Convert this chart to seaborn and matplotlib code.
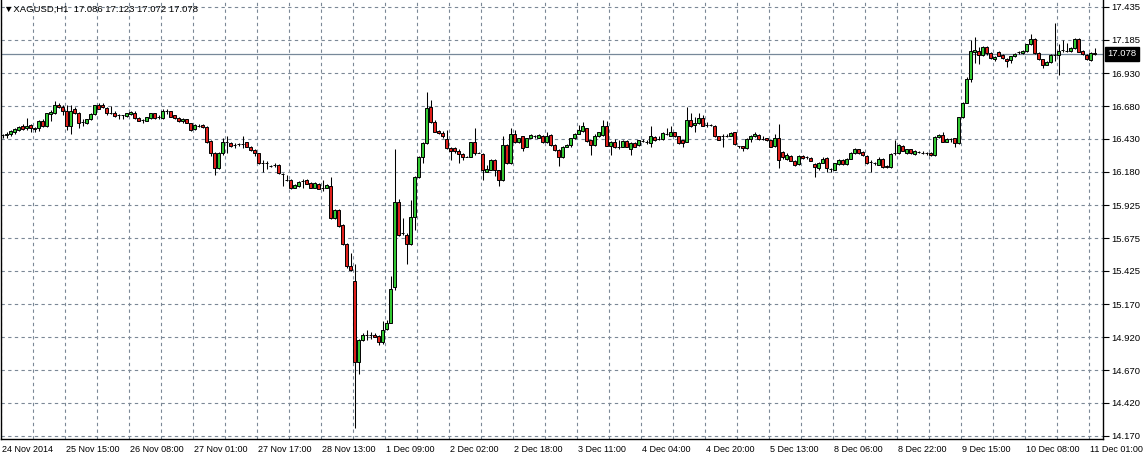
import matplotlib
matplotlib.use("Agg")
import matplotlib.pyplot as plt
import matplotlib.transforms as mtransforms
import numpy as np
import pandas as pd
import seaborn as sns

# XAGUSD H1 candles (oldest first)
opens = [
    16.46, 16.46, 16.467, 16.48, 16.50, 16.527, 16.51, 16.536, 16.51, 16.51,
    16.57, 16.525, 16.618, 16.63, 16.69, 16.675, 16.64, 16.53, 16.656, 16.625,
    16.56, 16.55, 16.58, 16.62, 16.685, 16.685, 16.665, 16.625, 16.625, 16.61,
    16.61, 16.605, 16.62, 16.625, 16.59, 16.574, 16.57, 16.59, 16.625, 16.60,
    16.59, 16.64, 16.64, 16.61, 16.59, 16.565, 16.58, 16.55, 16.505, 16.53,
    16.535, 16.52, 16.415, 16.325, 16.21, 16.32, 16.41, 16.40, 16.385, 16.39,
    16.39, 16.405, 16.37, 16.345, 16.32, 16.245, 16.245, 16.226, 16.235, 16.235,
    16.16, 16.117, 16.12, 16.06, 16.07, 16.11, 16.12, 16.095, 16.06, 16.09,
    16.06, 16.06, 16.07, 15.825, 15.89, 15.775, 15.63, 15.46, 15.35, 14.735,
    14.90, 14.937, 14.937, 14.94, 14.93, 14.88, 14.98, 15.03, 15.30, 15.95,
    15.71, 15.70, 15.63, 15.835, 16.14, 16.29, 16.40, 16.67, 16.56, 16.49,
    16.475, 16.43, 16.36, 16.36, 16.34, 16.315, 16.295, 16.295, 16.405, 16.325,
    16.315, 16.18, 16.195, 16.27, 16.19, 16.117, 16.385, 16.245, 16.47, 16.405,
    16.45, 16.37, 16.44, 16.452, 16.44, 16.45, 16.405, 16.46, 16.385, 16.345,
    16.29, 16.37, 16.385, 16.435, 16.47, 16.49, 16.51, 16.42, 16.385, 16.45,
    16.46, 16.53, 16.38, 16.41, 16.37, 16.37, 16.415, 16.35, 16.40, 16.385,
    16.415, 16.41, 16.40, 16.445, 16.43, 16.43, 16.47, 16.455, 16.48, 16.45,
    16.42, 16.41, 16.575, 16.535, 16.55, 16.59, 16.536, 16.536, 16.53, 16.45,
    16.455, 16.455, 16.455, 16.48, 16.375, 16.375, 16.36, 16.43, 16.45, 16.46,
    16.43, 16.435, 16.42, 16.375, 16.435, 16.33, 16.28, 16.30, 16.265, 16.24,
    16.30, 16.29, 16.285, 16.24, 16.21, 16.25, 16.285, 16.20, 16.195, 16.24,
    16.27, 16.24, 16.28, 16.32, 16.35, 16.33, 16.30, 16.255, 16.245, 16.235,
    16.28, 16.225, 16.215, 16.325, 16.32, 16.38, 16.32, 16.35, 16.315, 16.333,
    16.325, 16.32, 16.325, 16.305, 16.445, 16.46, 16.41, 16.43, 16.435, 16.40,
    16.595, 16.705, 16.89, 17.095, 17.10, 17.07, 17.13, 17.085, 17.04, 17.09,
    17.07, 17.04, 17.03, 17.06, 17.09, 17.087, 17.10, 17.15, 17.19, 17.085,
    17.035, 16.995, 17.015, 17.07, 17.07, 17.108, 17.10, 17.10, 17.12, 17.19,
    17.10, 17.07, 17.03, 17.086,
]
highs = [
    16.47, 16.48, 16.50, 16.51, 16.53, 16.54, 16.59, 16.54, 16.52, 16.575,
    16.58, 16.63, 16.65, 16.72, 16.70, 16.69, 16.69, 16.69, 16.67, 16.635,
    16.58, 16.585, 16.625, 16.69, 16.70, 16.70, 16.67, 16.68, 16.64, 16.62,
    16.615, 16.63, 16.64, 16.64, 16.595, 16.58, 16.60, 16.63, 16.63, 16.615,
    16.66, 16.66, 16.645, 16.615, 16.595, 16.59, 16.585, 16.555, 16.54, 16.545,
    16.545, 16.53, 16.42, 16.33, 16.33, 16.44, 16.45, 16.41, 16.40, 16.40,
    16.45, 16.41, 16.375, 16.35, 16.325, 16.27, 16.26, 16.235, 16.25, 16.24,
    16.17, 16.155, 16.125, 16.085, 16.11, 16.125, 16.125, 16.10, 16.10, 16.095,
    16.12, 16.085, 16.14, 15.90, 15.895, 15.78, 15.635, 15.56, 15.48, 14.905,
    14.95, 14.975, 14.96, 14.955, 14.935, 15.04, 15.05, 15.39, 16.35, 15.97,
    15.83, 15.71, 15.965, 16.15, 16.30, 16.41, 16.785, 16.725, 16.575, 16.50,
    16.49, 16.50, 16.37, 16.37, 16.35, 16.32, 16.30, 16.41, 16.51, 16.33,
    16.32, 16.23, 16.28, 16.275, 16.195, 16.45, 16.39, 16.51, 16.50, 16.44,
    16.455, 16.44, 16.47, 16.46, 16.465, 16.46, 16.485, 16.47, 16.39, 16.35,
    16.375, 16.39, 16.44, 16.475, 16.535, 16.56, 16.515, 16.425, 16.47, 16.485,
    16.575, 16.57, 16.415, 16.43, 16.42, 16.42, 16.42, 16.405, 16.405, 16.425,
    16.43, 16.42, 16.525, 16.45, 16.455, 16.48, 16.51, 16.525, 16.485, 16.455,
    16.425, 16.67, 16.63, 16.60, 16.625, 16.61, 16.56, 16.545, 16.535, 16.455,
    16.47, 16.47, 16.48, 16.485, 16.38, 16.38, 16.435, 16.46, 16.485, 16.465,
    16.45, 16.44, 16.425, 16.465, 16.545, 16.335, 16.32, 16.305, 16.27, 16.31,
    16.31, 16.30, 16.29, 16.245, 16.255, 16.29, 16.29, 16.21, 16.25, 16.28,
    16.275, 16.285, 16.33, 16.36, 16.355, 16.335, 16.305, 16.27, 16.255, 16.29,
    16.285, 16.23, 16.32, 16.42, 16.39, 16.385, 16.355, 16.355, 16.345, 16.34,
    16.335, 16.33, 16.33, 16.45, 16.465, 16.48, 16.435, 16.44, 16.44, 16.60,
    16.71, 16.90, 17.18, 17.21, 17.13, 17.14, 17.14, 17.09, 17.06, 17.10,
    17.075, 17.045, 17.065, 17.085, 17.10, 17.11, 17.155, 17.23, 17.195, 17.09,
    17.04, 17.02, 17.075, 17.315, 17.15, 17.18, 17.16, 17.13, 17.195, 17.195,
    17.105, 17.075, 17.09, 17.123,
]
lows = [
    16.44, 16.44, 16.455, 16.47, 16.49, 16.50, 16.50, 16.485, 16.48, 16.49,
    16.52, 16.52, 16.57, 16.62, 16.665, 16.61, 16.50, 16.47, 16.62, 16.51,
    16.53, 16.545, 16.575, 16.615, 16.655, 16.665, 16.615, 16.62, 16.60, 16.58,
    16.58, 16.60, 16.615, 16.585, 16.565, 16.55, 16.565, 16.585, 16.58, 16.585,
    16.585, 16.62, 16.595, 16.585, 16.56, 16.555, 16.55, 16.49, 16.50, 16.52,
    16.515, 16.40, 16.30, 16.155, 16.20, 16.31, 16.32, 16.37, 16.36, 16.375,
    16.36, 16.365, 16.34, 16.30, 16.24, 16.18, 16.20, 16.22, 16.22, 16.16,
    16.075, 16.11, 16.05, 16.055, 16.065, 16.06, 16.085, 16.055, 16.055, 16.045,
    16.03, 16.055, 15.82, 15.82, 15.76, 15.62, 15.45, 15.425, 14.226, 14.64,
    14.89, 14.90, 14.91, 14.92, 14.86, 14.87, 14.975, 15.025, 15.28, 15.69,
    15.70, 15.48, 15.62, 15.74, 16.13, 16.25, 16.39, 16.55, 16.48, 16.465,
    16.44, 16.355, 16.27, 16.325, 16.25, 16.27, 16.29, 16.29, 16.31, 16.32,
    16.117, 16.175, 16.19, 16.15, 16.07, 16.11, 16.24, 16.24, 16.40, 16.40,
    16.34, 16.365, 16.435, 16.44, 16.435, 16.40, 16.40, 16.38, 16.34, 16.225,
    16.285, 16.365, 16.37, 16.43, 16.465, 16.485, 16.41, 16.31, 16.38, 16.445,
    16.455, 16.375, 16.31, 16.36, 16.35, 16.365, 16.365, 16.31, 16.365, 16.38,
    16.405, 16.395, 16.365, 16.415, 16.42, 16.425, 16.46, 16.45, 16.445, 16.395,
    16.365, 16.405, 16.52, 16.485, 16.545, 16.525, 16.52, 16.525, 16.445, 16.42,
    16.365, 16.445, 16.45, 16.385, 16.36, 16.34, 16.355, 16.41, 16.445, 16.425,
    16.42, 16.415, 16.365, 16.37, 16.207, 16.28, 16.27, 16.26, 16.225, 16.235,
    16.28, 16.28, 16.26, 16.14, 16.19, 16.245, 16.175, 16.18, 16.19, 16.235,
    16.23, 16.235, 16.275, 16.315, 16.315, 16.30, 16.24, 16.18, 16.235, 16.23,
    16.21, 16.21, 16.21, 16.31, 16.315, 16.335, 16.315, 16.315, 16.31, 16.32,
    16.315, 16.31, 16.30, 16.30, 16.44, 16.405, 16.405, 16.41, 16.37, 16.39,
    16.59, 16.70, 16.86, 17.005, 17.00, 17.06, 17.07, 17.04, 17.02, 17.06,
    17.04, 16.98, 17.01, 17.055, 17.08, 17.08, 17.095, 17.145, 17.08, 17.03,
    16.97, 16.99, 17.01, 17.02, 16.92, 17.09, 17.09, 17.09, 17.115, 17.09,
    17.07, 17.03, 17.02, 17.072,
]
closes = [
    16.46, 16.465, 16.49, 16.505, 16.52, 16.505, 16.525, 16.51, 16.505, 16.565,
    16.525, 16.625, 16.638, 16.69, 16.675, 16.64, 16.53, 16.64, 16.625, 16.55,
    16.56, 16.58, 16.62, 16.685, 16.66, 16.67, 16.625, 16.625, 16.605, 16.61,
    16.61, 16.625, 16.635, 16.59, 16.57, 16.574, 16.595, 16.625, 16.59, 16.60,
    16.645, 16.64, 16.60, 16.59, 16.57, 16.58, 16.555, 16.50, 16.535, 16.53,
    16.52, 16.41, 16.32, 16.21, 16.32, 16.41, 16.41, 16.375, 16.385, 16.39,
    16.39, 16.37, 16.345, 16.32, 16.25, 16.245, 16.245, 16.226, 16.235, 16.168,
    16.16, 16.117, 16.06, 16.08, 16.105, 16.11, 16.09, 16.06, 16.095, 16.05,
    16.06, 16.08, 15.825, 15.89, 15.77, 15.63, 15.46, 15.43, 14.735, 14.90,
    14.94, 14.937, 14.937, 14.925, 14.88, 14.975, 15.03, 15.29, 15.95, 15.70,
    15.71, 15.63, 15.835, 16.14, 16.29, 16.40, 16.665, 16.56, 16.485, 16.475,
    16.45, 16.36, 16.34, 16.335, 16.315, 16.29, 16.295, 16.405, 16.32, 16.325,
    16.195, 16.20, 16.27, 16.195, 16.117, 16.385, 16.25, 16.47, 16.41, 16.435,
    16.36, 16.435, 16.46, 16.452, 16.46, 16.405, 16.45, 16.385, 16.345, 16.29,
    16.37, 16.385, 16.435, 16.47, 16.495, 16.525, 16.415, 16.385, 16.455, 16.48,
    16.525, 16.38, 16.41, 16.365, 16.37, 16.415, 16.37, 16.40, 16.37, 16.42,
    16.415, 16.41, 16.45, 16.42, 16.43, 16.475, 16.47, 16.48, 16.45, 16.40,
    16.40, 16.575, 16.525, 16.555, 16.59, 16.53, 16.536, 16.536, 16.45, 16.425,
    16.455, 16.455, 16.475, 16.39, 16.375, 16.36, 16.43, 16.455, 16.465, 16.43,
    16.43, 16.42, 16.37, 16.435, 16.27, 16.29, 16.31, 16.265, 16.23, 16.30,
    16.285, 16.29, 16.265, 16.215, 16.25, 16.28, 16.21, 16.20, 16.245, 16.27,
    16.24, 16.28, 16.325, 16.35, 16.32, 16.305, 16.245, 16.255, 16.245, 16.28,
    16.215, 16.215, 16.315, 16.325, 16.385, 16.34, 16.35, 16.32, 16.34, 16.333,
    16.325, 16.32, 16.305, 16.445, 16.46, 16.41, 16.43, 16.43, 16.40, 16.595,
    16.705, 16.89, 17.10, 17.105, 17.07, 17.13, 17.085, 17.045, 17.055, 17.065,
    17.045, 17.02, 17.06, 17.08, 17.09, 17.10, 17.15, 17.19, 17.085, 17.035,
    16.995, 17.015, 17.07, 17.07, 17.10, 17.108, 17.10, 17.125, 17.19, 17.095,
    17.075, 17.037, 17.085, 17.078,
]

date_labels = [
    "24 Nov 2014", "25 Nov 15:00", "26 Nov 08:00", "27 Nov 01:00",
    "27 Nov 17:00", "28 Nov 13:00", "1 Dec 09:00", "2 Dec 02:00",
    "2 Dec 18:00", "3 Dec 11:00", "4 Dec 04:00", "4 Dec 20:00",
    "5 Dec 13:00", "8 Dec 06:00", "8 Dec 22:00", "9 Dec 15:00",
    "10 Dec 08:00", "11 Dec 01:00",
]
price_ticks = [17.435, 17.185, 16.930, 16.680, 16.430, 16.180, 15.925,
               15.675, 15.425, 15.170, 14.920, 14.670, 14.420, 14.170]
symbol = "XAGUSD,H1"

bull_color = "#32c832"
bear_color = "#e0201c"
grid_color = "#7b8896"

sns.set_style("white")
plt.rcParams["font.family"] = ["Liberation Sans", "DejaVu Sans"]
plt.rcParams["font.size"] = 6.8

df = pd.DataFrame({"open": opens, "high": highs, "low": lows, "close": closes})
df["bar"] = np.arange(len(df))
df["up"] = df["close"] >= df["open"]

W, H = 1144, 458
fig = plt.figure(figsize=(W / 100, H / 100), dpi=100)
ax = fig.add_axes([1 / W, 19 / H, 1102 / W, 439 / H])

# wicks and bodies
ax.vlines(df["bar"], df["low"], df["high"], color="black", lw=0.75, zorder=3)
ax.bar(
    df["bar"],
    df["close"] - df["open"],
    bottom=df["open"],
    width=0.66,
    color=np.where(df["up"], bull_color, bear_color),
    edgecolor="black",
    linewidth=0.7,
    zorder=4,
)

last = df.iloc[-1]
ax.axhline(last["close"], color="#778899", lw=0.9, zorder=2)

# grid: labelled ticks every 16 bars, extra grid lines halfway
major_x = [16 * k - 0.4 for k in range(len(date_labels))]
minor_x = [16 * k + 7.6 for k in range(len(date_labels) - 1)]
ax.set_xticks(major_x)
ax.set_xticklabels(date_labels)
ax.set_xticks(minor_x, minor=True)
ax.set_yticks(price_ticks)
ax.set_yticklabels([f"{p:.3f}" for p in price_ticks])
ax.yaxis.tick_right()
ax.grid(True, which="both", color=grid_color, ls=(0, (3, 3)), lw=0.8, zorder=1)
ax.set_axisbelow(True)

ax.set_xlim(-0.425, 275.075)
ax.set_ylim(14.145, 17.488)

ax.tick_params(axis="x", which="major", direction="out", length=4, width=0.8,
               pad=0.5, colors="black", labelsize=6.5)
ax.tick_params(axis="x", which="minor", length=0)
ax.tick_params(axis="y", direction="out", length=4, width=0.8, pad=2,
               colors="black", labelsize=6.8)
shift = mtransforms.ScaledTranslation(0.5 / 100, 0, fig.dpi_scale_trans)
for lbl in ax.get_xticklabels():
    lbl.set_horizontalalignment("left")
    lbl.set_transform(lbl.get_transform() + shift)

for side in ["left", "right", "bottom"]:
    ax.spines[side].set_color("black")
    ax.spines[side].set_linewidth(1.0)
ax.spines["top"].set_visible(False)

# current price box on the right scale
trans = mtransforms.blended_transform_factory(ax.transAxes, ax.transData)
box_shift = mtransforms.ScaledTranslation(4 / 100, 0, fig.dpi_scale_trans)
ax.text(1.0, last["close"], f"{last['close']:.3f}", transform=trans + box_shift,
        ha="left", va="center", color="white", fontsize=6.8,
        bbox=dict(facecolor="black", edgecolor="black", pad=1.8),
        clip_on=False, zorder=10)

# header
ax.text(0.003, 0.978, "\u25bc" + symbol + "  " + " ".join(
    f"{v:.3f}" for v in [last["open"], last["high"], last["low"], last["close"]]),
    transform=ax.transAxes, ha="left", va="center", color="black", fontsize=6.8, zorder=10)

fig.savefig("out.png", dpi=100, facecolor="white")
